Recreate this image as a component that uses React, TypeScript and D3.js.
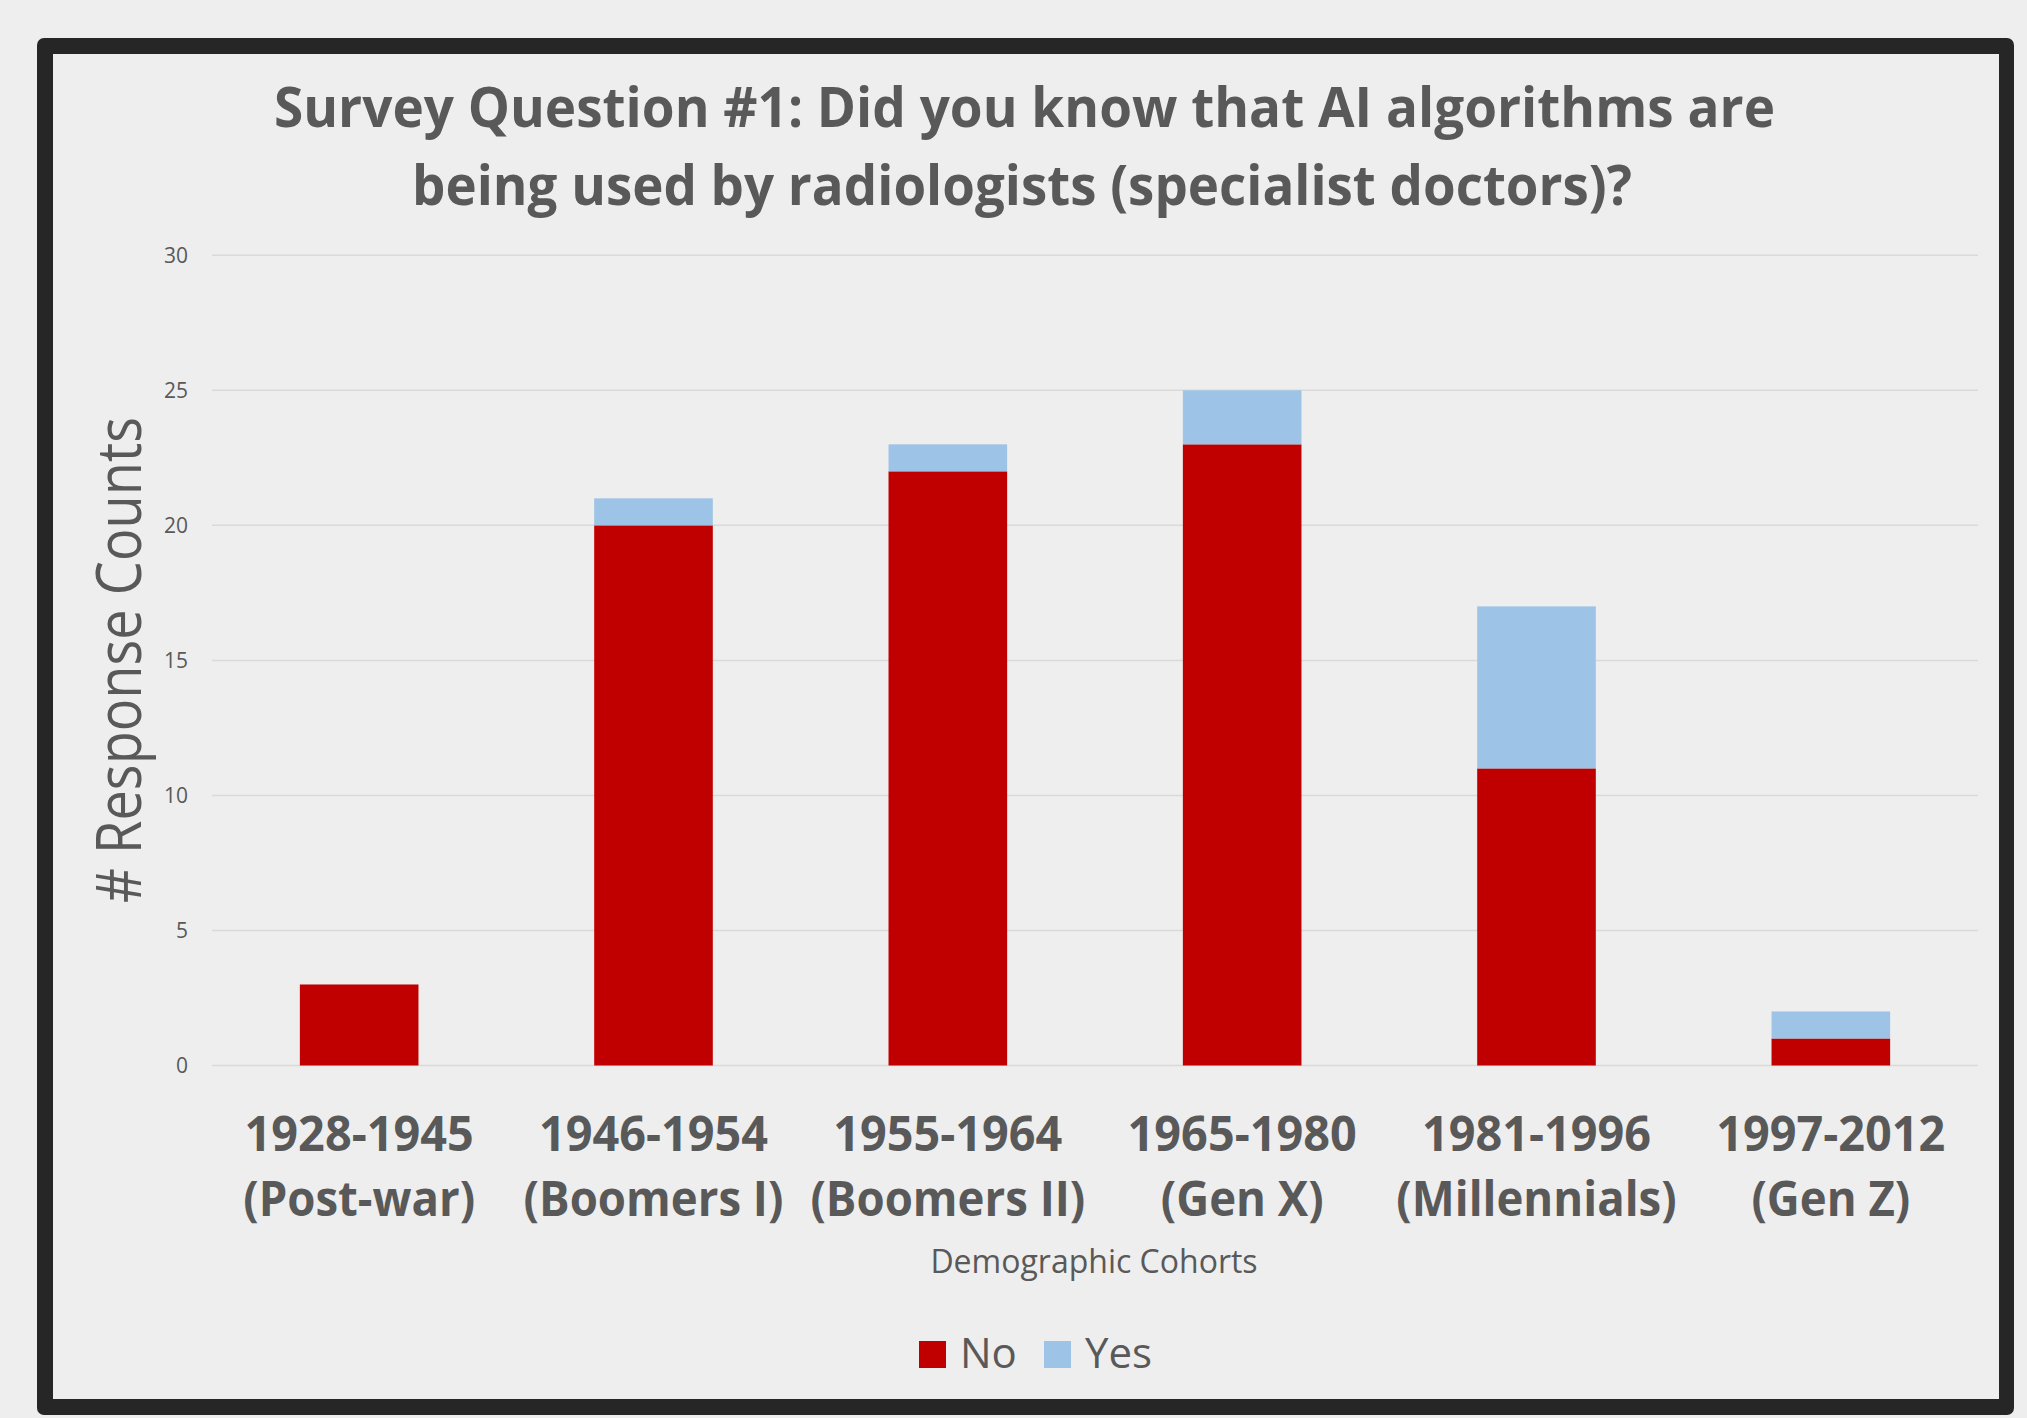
import React from "react";
import * as d3 from "d3";

// Survey response counts per demographic cohort
const cohortYears = ["1928-1945", "1946-1954", "1955-1964", "1965-1980", "1981-1996", "1997-2012"];
const cohortNames = ["(Post-war)", "(Boomers I)", "(Boomers II)", "(Gen X)", "(Millennials)", "(Gen Z)"];
const noCounts = [3, 20, 22, 23, 11, 1];
const yesCounts = [0, 1, 1, 2, 6, 1];
const seriesKeys = ["No", "Yes"];
const yTicks = [0, 5, 10, 15, 20, 25, 30];

const titleLines = [
  "Survey Question #1: Did you know that AI algorithms are",
  "being used by radiologists (specialist doctors)?",
];

const W = 2027;
const H = 1418;
const FONT = "'Open Sans', 'Noto Sans', sans-serif";
const TEXT = "#595959";
const COLORS: Record<string, string> = { No: "#C00000", Yes: "#9DC3E6" };

export default function App() {
  const rows = cohortYears.map((c, i) => ({ cohort: c, No: noCounts[i], Yes: yesCounts[i] }));

  const x = d3
    .scaleBand<string>()
    .domain(cohortYears)
    .range([212, 1978])
    .paddingInner(0.597)
    .paddingOuter(0.2985);

  const y = d3.scaleLinear().domain([0, 30]).range([1065.5, 255.3]);

  const stacked = d3.stack<any>().keys(seriesKeys)(rows);

  return (
    <div style={{ position: "absolute", left: 0, top: 0 }}>
      <svg width={W} height={H} style={{ display: "block", background: "#eeeeee" }}>
        {/* frame */}
        <rect x={37} y={38} width={1977} height={1377} rx={7} fill="#262626" />
        <rect x={53} y={54} width={1946} height={1345} fill="#eeeeee" />

        {/* title */}
        <text
          x={1024.5}
          y={126.7}
          textAnchor="middle"
          fontFamily={FONT}
          fontWeight={700}
          fontSize={55}
          fill={TEXT}
          textLength={1501}
          lengthAdjust="spacingAndGlyphs"
        >
          {titleLines[0]}
        </text>
        <text
          x={1022}
          y={205}
          textAnchor="middle"
          fontFamily={FONT}
          fontWeight={700}
          fontSize={55}
          fill={TEXT}
          textLength={1220}
          lengthAdjust="spacingAndGlyphs"
        >
          {titleLines[1]}
        </text>

        {/* gridlines and y tick labels */}
        {yTicks.map((t) => (
          <g key={t}>
            <line x1={212} x2={1978} y1={y(t)} y2={y(t)} stroke="#d9d9d9" strokeWidth={1.5} />
            <text
              x={188}
              y={y(t)}
              dy="0.35em"
              textAnchor="end"
              fontFamily={FONT}
              fontSize={21}
              fill={TEXT}
            >
              {t}
            </text>
          </g>
        ))}

        {/* stacked bars */}
        {stacked.map((layer) => (
          <g key={layer.key} fill={COLORS[layer.key]}>
            {layer.map((d, i) =>
              d[1] - d[0] > 0 ? (
                <rect
                  key={i}
                  x={x(cohortYears[i])}
                  width={x.bandwidth()}
                  y={y(d[1])}
                  height={y(d[0]) - y(d[1])}
                />
              ) : null
            )}
          </g>
        ))}

        {/* category labels */}
        {cohortYears.map((c, i) => {
          const cx = (x(c) as number) + x.bandwidth() / 2;
          return (
            <g key={c} fontFamily={FONT} fontWeight={700} fontSize={49} fill={TEXT} textAnchor="middle">
              <text transform={`translate(${cx},1151) scale(0.955,1)`}>{c}</text>
              <text transform={`translate(${cx},1216) scale(0.93,1)`}>{cohortNames[i]}</text>
            </g>
          );
        })}

        {/* axis titles */}
        <text x={1094} y={1273} textAnchor="middle" fontFamily={FONT} fontSize={32} fill={TEXT}>
          Demographic Cohorts
        </text>
        <text
          transform="translate(141,660) rotate(-90)"
          textAnchor="middle"
          fontFamily={FONT}
          fontSize={63}
          fill={TEXT}
          textLength={486}
          lengthAdjust="spacingAndGlyphs"
        >
          # Response Counts
        </text>

        {/* legend */}
        {seriesKeys.map((k, i) => {
          const lx = i === 0 ? 919 : 1044;
          return (
            <g key={k}>
              <rect x={lx} y={1341} width={27} height={27} fill={COLORS[k]} />
              <text x={lx + 41} y={1367.5} fontFamily={FONT} fontSize={42} fill={TEXT}>
                {k}
              </text>
            </g>
          );
        })}
      </svg>
    </div>
  );
}
